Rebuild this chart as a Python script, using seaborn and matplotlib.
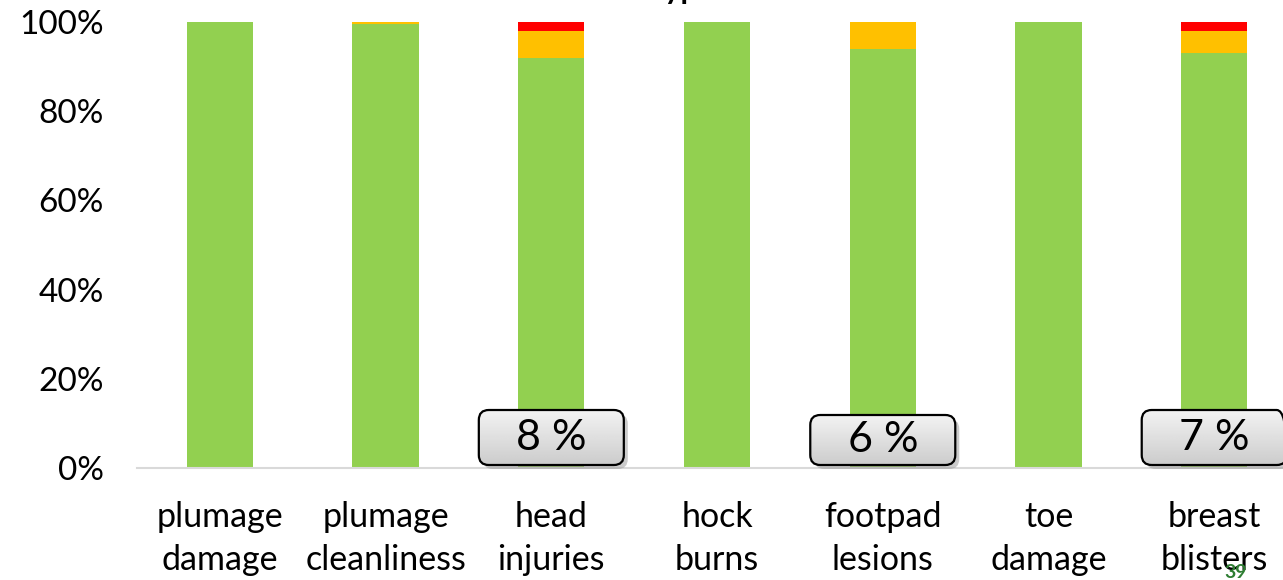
import numpy as np
import pandas as pd
import matplotlib
matplotlib.use("Agg")
import matplotlib.pyplot as plt
import seaborn as sns
from matplotlib.patches import FancyBboxPatch
from matplotlib.ticker import FuncFormatter

# ---- data ----
categories = ["plumage\ndamage", "plumage\ncleanliness", "head\ninjuries", "hock\nburns",
              "footpad\nlesions", "toe\ndamage", "breast\nblisters"]
green = [100.0, 99.6, 92.0, 100.0, 94.0, 100.0, 93.0]
yellow = [0.0, 0.4, 6.0, 0.0, 6.0, 0.0, 5.0]
red = [0.0, 0.0, 2.0, 0.0, 0.0, 0.0, 2.0]
box_labels = ["8 %", "6 %", "7 %"]
box_cats = ["head\ninjuries", "footpad\nlesions", "breast\nblisters"]
ytick_vals = [0, 20, 40, 60, 80, 100]

C_GREEN = "#92D050"
C_YELLOW = "#FFC000"
C_RED = "#FF0000"

sns.set_theme(style="white")
plt.rcParams["font.family"] = ["Lato", "DejaVu Sans"]

W, H = 1283, 580
fig = plt.figure(figsize=(W / 100, H / 100), dpi=100)
ax_left, ax_bottom, ax_top = 137, 468, 22
ax = fig.add_axes([ax_left / W, 1 - ax_bottom / H, (W - ax_left) / W, (ax_bottom - ax_top) / H])

df = pd.DataFrame({"cat": categories, "green": green, "yellow": yellow, "red": red})
df["gy"] = df["green"] + df["yellow"]
df["gyr"] = df["gy"] + df["red"]

for col, color in [("gyr", C_RED), ("gy", C_YELLOW), ("green", C_GREEN)]:
    sns.barplot(data=df, x="cat", y=col, color=color, width=0.4, ax=ax,
                saturation=1, linewidth=0, order=categories)

ax.set_xlim(-0.5, 6.415)
ax.set_ylim(0, 100)
ax.set_xlabel("")
ax.set_ylabel("")
ax.set_yticks(ytick_vals)
ax.yaxis.set_major_formatter(FuncFormatter(lambda v, p: f"{v:.0f}%"))
ax.tick_params(axis="y", labelsize=24, pad=24, length=0, colors="black")
ax.tick_params(axis="x", labelsize=24.5, pad=24, length=0, colors="black")
for lbl in ax.get_xticklabels():
    lbl.set_linespacing(1.4)
for s in ["top", "right", "left"]:
    ax.spines[s].set_visible(False)
ax.spines["bottom"].set_color("#d9d9d9")
ax.spines["bottom"].set_linewidth(1.5)
ax.grid(False)

# ---- callout boxes ----
px_x = (W - ax_left) / (6.415 + 0.5)  # px per x unit
px_y = (ax_bottom - ax_top) / 100.0     # px per y unit
bw = 145 / px_x
box_heights = [55, 50, 55]
y0 = 3 / px_y
grad = np.linspace(0.95, 0.80, 64).reshape(-1, 1)
for lab, cat, hpx in zip(box_labels, box_cats, box_heights):
    bh = hpx / px_y
    xi = categories.index(cat)
    x0 = xi - bw / 2
    r = 10 / px_x
    aspect = (1 / px_y) / (1 / px_x)
    shadow = FancyBboxPatch((x0 + 4 / px_x, y0 - 4 / px_y), bw, bh,
                            boxstyle=f"round,pad=0,rounding_size={r}",
                            mutation_aspect=aspect, fc="#999999", ec="none",
                            alpha=0.5, zorder=5, clip_on=False)
    ax.add_patch(shadow)
    box = FancyBboxPatch((x0, y0), bw, bh, boxstyle=f"round,pad=0,rounding_size={r}",
                         mutation_aspect=aspect, fc="none", ec="black", lw=1.6,
                         zorder=7, clip_on=False)
    ax.add_patch(box)
    im = ax.imshow(grad, cmap="gray", vmin=0, vmax=1, aspect="auto",
                   extent=(x0, x0 + bw, y0, y0 + bh), origin="upper", zorder=6)
    im.set_clip_path(box)
    ax.text(xi, y0 + bh / 2, lab, ha="center", va="center", fontsize=31,
            color="black", zorder=8)

ax.set_xlim(-0.5, 6.415)
ax.set_ylim(0, 100)

# clipped title fragment and page number
fig.text(0.536, 1.0 + 1 / H, "Types", ha="center", va="baseline", fontsize=22,
         fontweight="bold", color="black")
fig.text(1236 / W, 1 - 572 / H, "39", ha="center", va="center", fontsize=14,
         fontweight="bold", color="#2E7D32")

fig.savefig("out.png", dpi=100)
